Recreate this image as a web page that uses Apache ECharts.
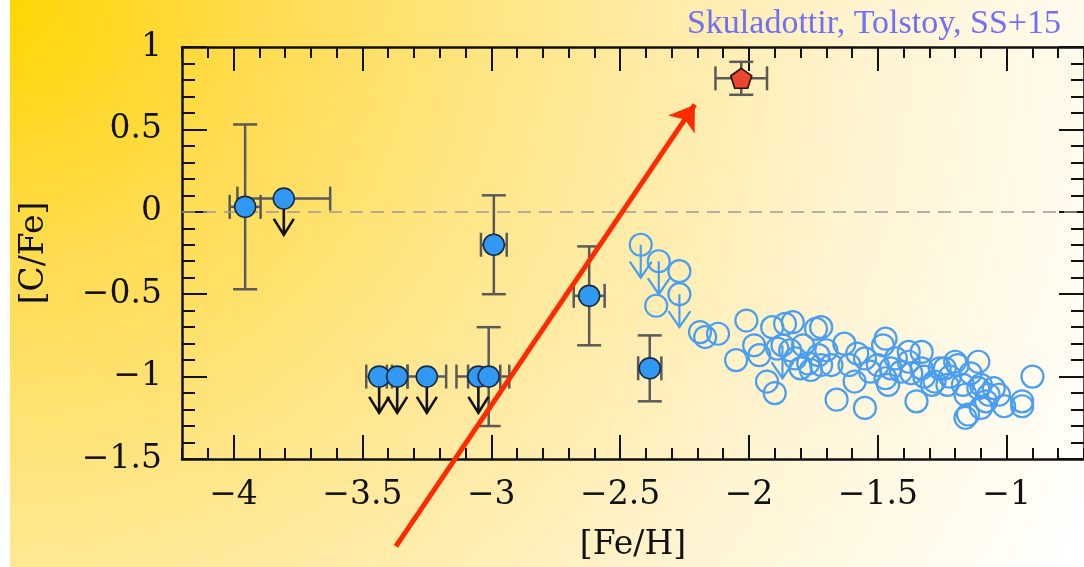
<!DOCTYPE html>
<html>
<head>
<meta charset="utf-8">
<script src="https://cdn.jsdelivr.net/npm/echarts@6/dist/echarts.min.js"></script>
<style>
  html, body { margin: 0; padding: 0; background: #fff; }
  #wrap { position: relative; width: 1084px; height: 567px; overflow: hidden;
    background: radial-gradient(circle at 0px 0px, #FFD500 0px, #FFDC50 260px, #FFE894 570px, #FFF4D2 880px, #FFFFFF 1220px); }
  #strip { position: absolute; left: 0; top: 0; width: 10px; height: 567px; background: #fff; }
  #chart { position: absolute; left: 0; top: 0; width: 1084px; height: 567px; }
</style>
</head>
<body>
<div id="wrap"><div id="strip"></div><div id="chart"></div></div>
<script>
// ---------- data ----------
const xMin = -4.2, xMax = -0.7, yMin = -1.5, yMax = 1;
const xMajorTicks = [-4, -3.5, -3, -2.5, -2, -1.5, -1];
const yMajorTicks = [-1.5, -1, -0.5, 0, 0.5, 1];
const titleText = 'Skuladottir, Tolstoy, SS+15';
const xName = '[Fe/H]';
const yName = '[C/Fe]';

// filled blue stars, detections: [Fe/H], [C/Fe], xerr, yerr
const detFeH  = [-3.955, -2.99, -3.05, -3.01, -2.62, -2.385];
const detCFe  = [ 0.03, -0.20, -1.00, -1.00, -0.51, -0.95];
const detXErr = [ 0.06,  0.05,  0.085, 0.08,  0.06,  0.045];
const detYErr = [ 0.50,  0.30,  0,     0.30,  0.30,  0.20];
const detUpper = [false, false, true, false, false, false];

// filled blue stars, upper limits
const ulFeH  = [-3.805, -3.435, -3.365, -3.25];
const ulCFe  = [ 0.08, -1.00, -1.00, -1.00];
const ulXErr = [ 0.18,  0.05,  0.04,  0.075];

// red star
const redFeH = [-2.03], redCFe = [0.81], redXErr = [0.10], redYErr = [0.10];

// open circles (comparison sample)
const openFeH = [-2.27,-2.36,-2.19,-2.17,-2.12,-2.01,-1.98,-2.05,-1.96,-1.93,-1.90,-1.91,-1.86,-1.83,-1.74,
  -1.89,-1.84,-1.79,-1.82,-1.77,-1.73,-1.76,-1.70,-1.72,-1.63,-1.68,-1.61,-1.59,-1.66,-1.55,
  -1.48,-1.50,-1.46,-1.47,-1.55,-1.58,-1.53,-1.41,-1.38,-1.38,-1.47,-1.43,-1.45,-1.33,-1.35,
  -1.26,-1.29,-1.33,-1.28,-1.24,-1.19,-1.20,-1.23,-1.16,-1.17,-1.11,-1.11,-1.07,-1.10,-1.16,
  -1.10,-1.15,-1.08,-1.01,-0.94,-0.90,-0.94,-1.37,-1.32,-1.22,-1.14,-1.05,-1.03,-1.80,-1.72];
const openCFe = [-0.36,-0.57,-0.73,-0.76,-0.74,-0.66,-0.81,-0.90,-0.87,-1.03,-1.10,-0.70,-0.68,-0.67,-0.71,
  -0.83,-0.84,-0.81,-0.89,-0.92,-0.87,-0.96,-0.84,-0.70,-0.80,-0.93,-0.93,-1.03,-1.14,-1.19,
  -0.81,-0.93,-1.05,-1.01,-0.89,-0.86,-0.97,-0.97,-0.85,-0.91,-0.77,-0.89,-0.95,-0.95,-1.15,
  -0.95,-1.05,-0.85,-1.03,-0.95,-0.93,-0.91,-1.05,-1.11,-1.05,-0.91,-1.07,-1.11,-1.05,-1.25,
  -1.19,-1.23,-1.15,-1.18,-1.18,-1.00,-1.15,-0.98,-1.00,-1.00,-0.98,-1.07,-1.11,-0.95,-0.93];
// open circles, upper limits
const openUlFeH = [-2.42, -2.35, -2.27, -1.87];
const openUlCFe = [-0.20, -0.30, -0.50, -0.81];

// annotation arrow (data coordinates)
const arrowFrom = [-3.37, -2.03];
const arrowTo   = [-2.21, 0.65];

// ---------- build ----------
const minus = v => (v < 0 ? '\u2212' + String(Math.abs(v)) : String(v));
const FONT = 'DejaVu Serif';
const INK = '#111111';

const errData = [];
detFeH.forEach((x, i) => errData.push([x, detCFe[i], detXErr[i], detYErr[i]]));
ulFeH.forEach((x, i) => errData.push([x, ulCFe[i], ulXErr[i], 0]));
redFeH.forEach((x, i) => errData.push([x, redCFe[i], redXErr[i], redYErr[i]]));

const ulFilledData = [];
ulFeH.forEach((x, i) => ulFilledData.push([x, ulCFe[i], 0.22]));
detFeH.forEach((x, i) => { if (detUpper[i]) ulFilledData.push([x, detCFe[i], 0.22]); });

const ulOpenData = openUlFeH.map((x, i) => [x, openUlCFe[i], 0.2]);

function errRender(params, api) {
  const x = api.value(0), y = api.value(1), xe = api.value(2), ye = api.value(3);
  const st = { stroke: '#5a5a5a', lineWidth: 2.5 };
  const cap = 12;
  const ch = [];
  if (ye > 0) {
    const a = api.coord([x, y + ye]), b = api.coord([x, y - ye]);
    ch.push({ type: 'line', shape: { x1: a[0], y1: a[1], x2: b[0], y2: b[1] }, style: st });
    ch.push({ type: 'line', shape: { x1: a[0] - cap, y1: a[1], x2: a[0] + cap, y2: a[1] }, style: st });
    ch.push({ type: 'line', shape: { x1: b[0] - cap, y1: b[1], x2: b[0] + cap, y2: b[1] }, style: st });
  }
  if (xe > 0) {
    const a = api.coord([x - xe, y]), b = api.coord([x + xe, y]);
    ch.push({ type: 'line', shape: { x1: a[0], y1: a[1], x2: b[0], y2: b[1] }, style: st });
    ch.push({ type: 'line', shape: { x1: a[0], y1: a[1] - cap, x2: a[0], y2: a[1] + cap }, style: st });
    ch.push({ type: 'line', shape: { x1: b[0], y1: b[1] - cap, x2: b[0], y2: b[1] + cap }, style: st });
  }
  return { type: 'group', children: ch };
}

function arrowRender(color, width, hw, hh) {
  return function (params, api) {
    const x = api.value(0), y = api.value(1), len = api.value(2);
    const a = api.coord([x, y]), b = api.coord([x, y - len]);
    const st = { stroke: color, lineWidth: width, fill: null, lineJoin: 'miter' };
    return { type: 'group', children: [
      { type: 'line', shape: { x1: a[0], y1: a[1], x2: b[0], y2: b[1] }, style: st },
      { type: 'polyline', shape: { points: [[b[0] - hw, b[1] - hh], [b[0], b[1]], [b[0] + hw, b[1] - hh]] }, style: st }
    ] };
  };
}

const axisLineStyle = { color: INK, width: 2.5 };
const tickStyle = { color: INK, width: 2 };

function xAxes(pos, labels) {
  return [
    { type: 'value', position: pos, min: xMin, max: xMax, interval: 0.1,
      axisLine: { show: true, onZero: false, lineStyle: axisLineStyle },
      axisTick: { show: true, inside: true, length: 11, lineStyle: tickStyle },
      axisLabel: { show: false }, splitLine: { show: false },
      name: labels ? xName : '', nameLocation: 'middle', nameGap: 70,
      nameTextStyle: { fontFamily: FONT, fontSize: 33, color: INK } },
    { type: 'value', position: pos, min: xMin, max: xMax,
      axisLine: { show: false, onZero: false },
      axisTick: { show: true, inside: true, length: 24, customValues: xMajorTicks, lineStyle: tickStyle },
      axisLabel: { show: labels, customValues: xMajorTicks, formatter: minus, fontFamily: FONT, fontSize: 33, color: INK, margin: 20 },
      splitLine: { show: false } }
  ];
}
function yAxis(pos, labels) {
  return { type: 'value', position: pos, min: yMin, max: yMax, interval: 0.5,
    axisLine: { show: true, onZero: false, lineStyle: axisLineStyle },
    axisTick: { show: true, inside: true, length: 25, lineStyle: tickStyle },
    minorTick: { show: true, splitNumber: 5, length: 13, lineStyle: tickStyle },
    axisLabel: { show: labels, formatter: minus, fontFamily: FONT, fontSize: 33, color: INK, margin: 20 },
    splitLine: { show: false }, minorSplitLine: { show: false },
    name: labels ? yName : '', nameLocation: 'middle', nameGap: 131, nameRotate: 90,
    nameTextStyle: { fontFamily: FONT, fontSize: 33, color: INK } };
}

const chart = echarts.init(document.getElementById('chart'), null, { renderer: 'canvas' });
chart.setOption({
  backgroundColor: 'transparent',
  animation: false,
  title: { text: titleText, right: 18, top: 2,
    textStyle: { fontFamily: 'Liberation Serif', fontWeight: 'normal', fontSize: 34, color: '#6F6FF7' } },
  grid: { left: 182, right: -3, top: 47, bottom: 106 },
  xAxis: [...xAxes('bottom', true), ...xAxes('top', false)],
  yAxis: [yAxis('left', true), yAxis('right', false)],
  series: [
    { type: 'scatter', name: 'zero', data: [], xAxisIndex: 0, yAxisIndex: 0,
      markLine: { silent: true, symbol: 'none', label: { show: false },
        lineStyle: { color: '#9a9a9a', width: 1.6, type: [13, 8] },
        data: [{ yAxis: 0 }] }, z: 1 },
    { type: 'custom', name: 'errors', xAxisIndex: 0, yAxisIndex: 0, data: errData,
      encode: { x: 0, y: 1 }, renderItem: errRender, z: 2, clip: false },
    { type: 'custom', name: 'openUL', xAxisIndex: 0, yAxisIndex: 0, data: ulOpenData,
      encode: { x: 0, y: 1 }, renderItem: arrowRender('#4A9EF2', 2.2, 11, 16), z: 3 },
    { type: 'scatter', name: 'open', xAxisIndex: 0, yAxisIndex: 0,
      data: openFeH.map((x, i) => [x, openCFe[i]]).concat(openUlFeH.map((x, i) => [x, openUlCFe[i]])),
      symbol: 'circle', symbolSize: 22,
      itemStyle: { color: 'rgba(0,0,0,0)', borderColor: '#4A9EF2', borderWidth: 2.2, opacity: 1 }, z: 4 },
    { type: 'custom', name: 'filledUL', xAxisIndex: 0, yAxisIndex: 0, data: ulFilledData,
      encode: { x: 0, y: 1 }, renderItem: arrowRender('#111111', 2.6, 10, 16), z: 5 },
    { type: 'scatter', name: 'filled', xAxisIndex: 0, yAxisIndex: 0,
      data: detFeH.map((x, i) => [x, detCFe[i]]).concat(ulFeH.map((x, i) => [x, ulCFe[i]])),
      symbol: 'circle', symbolSize: 21,
      itemStyle: { color: '#3199F2', borderColor: '#1A2C44', borderWidth: 1.6, opacity: 1 }, z: 6 },
    { type: 'scatter', name: 'red', xAxisIndex: 0, yAxisIndex: 0,
      data: redFeH.map((x, i) => [x, redCFe[i]]),
      symbol: 'path://M50,0 L100,38 L81,100 L19,100 L0,38 Z', symbolSize: [21, 20],
      itemStyle: { color: '#EA4630', borderColor: '#2A1010', borderWidth: 1.6, opacity: 1 }, z: 6 },
    { type: 'lines', name: 'arrow', coordinateSystem: 'cartesian2d', xAxisIndex: 0, yAxisIndex: 0,
      clip: false, symbol: ['none', 'arrow'], symbolSize: 24,
      lineStyle: { color: '#FF2A00', width: 5, opacity: 1 },
      data: [{ coords: [arrowFrom, arrowTo] }], z: 10 }
  ]
});
</script>
</body>
</html>
